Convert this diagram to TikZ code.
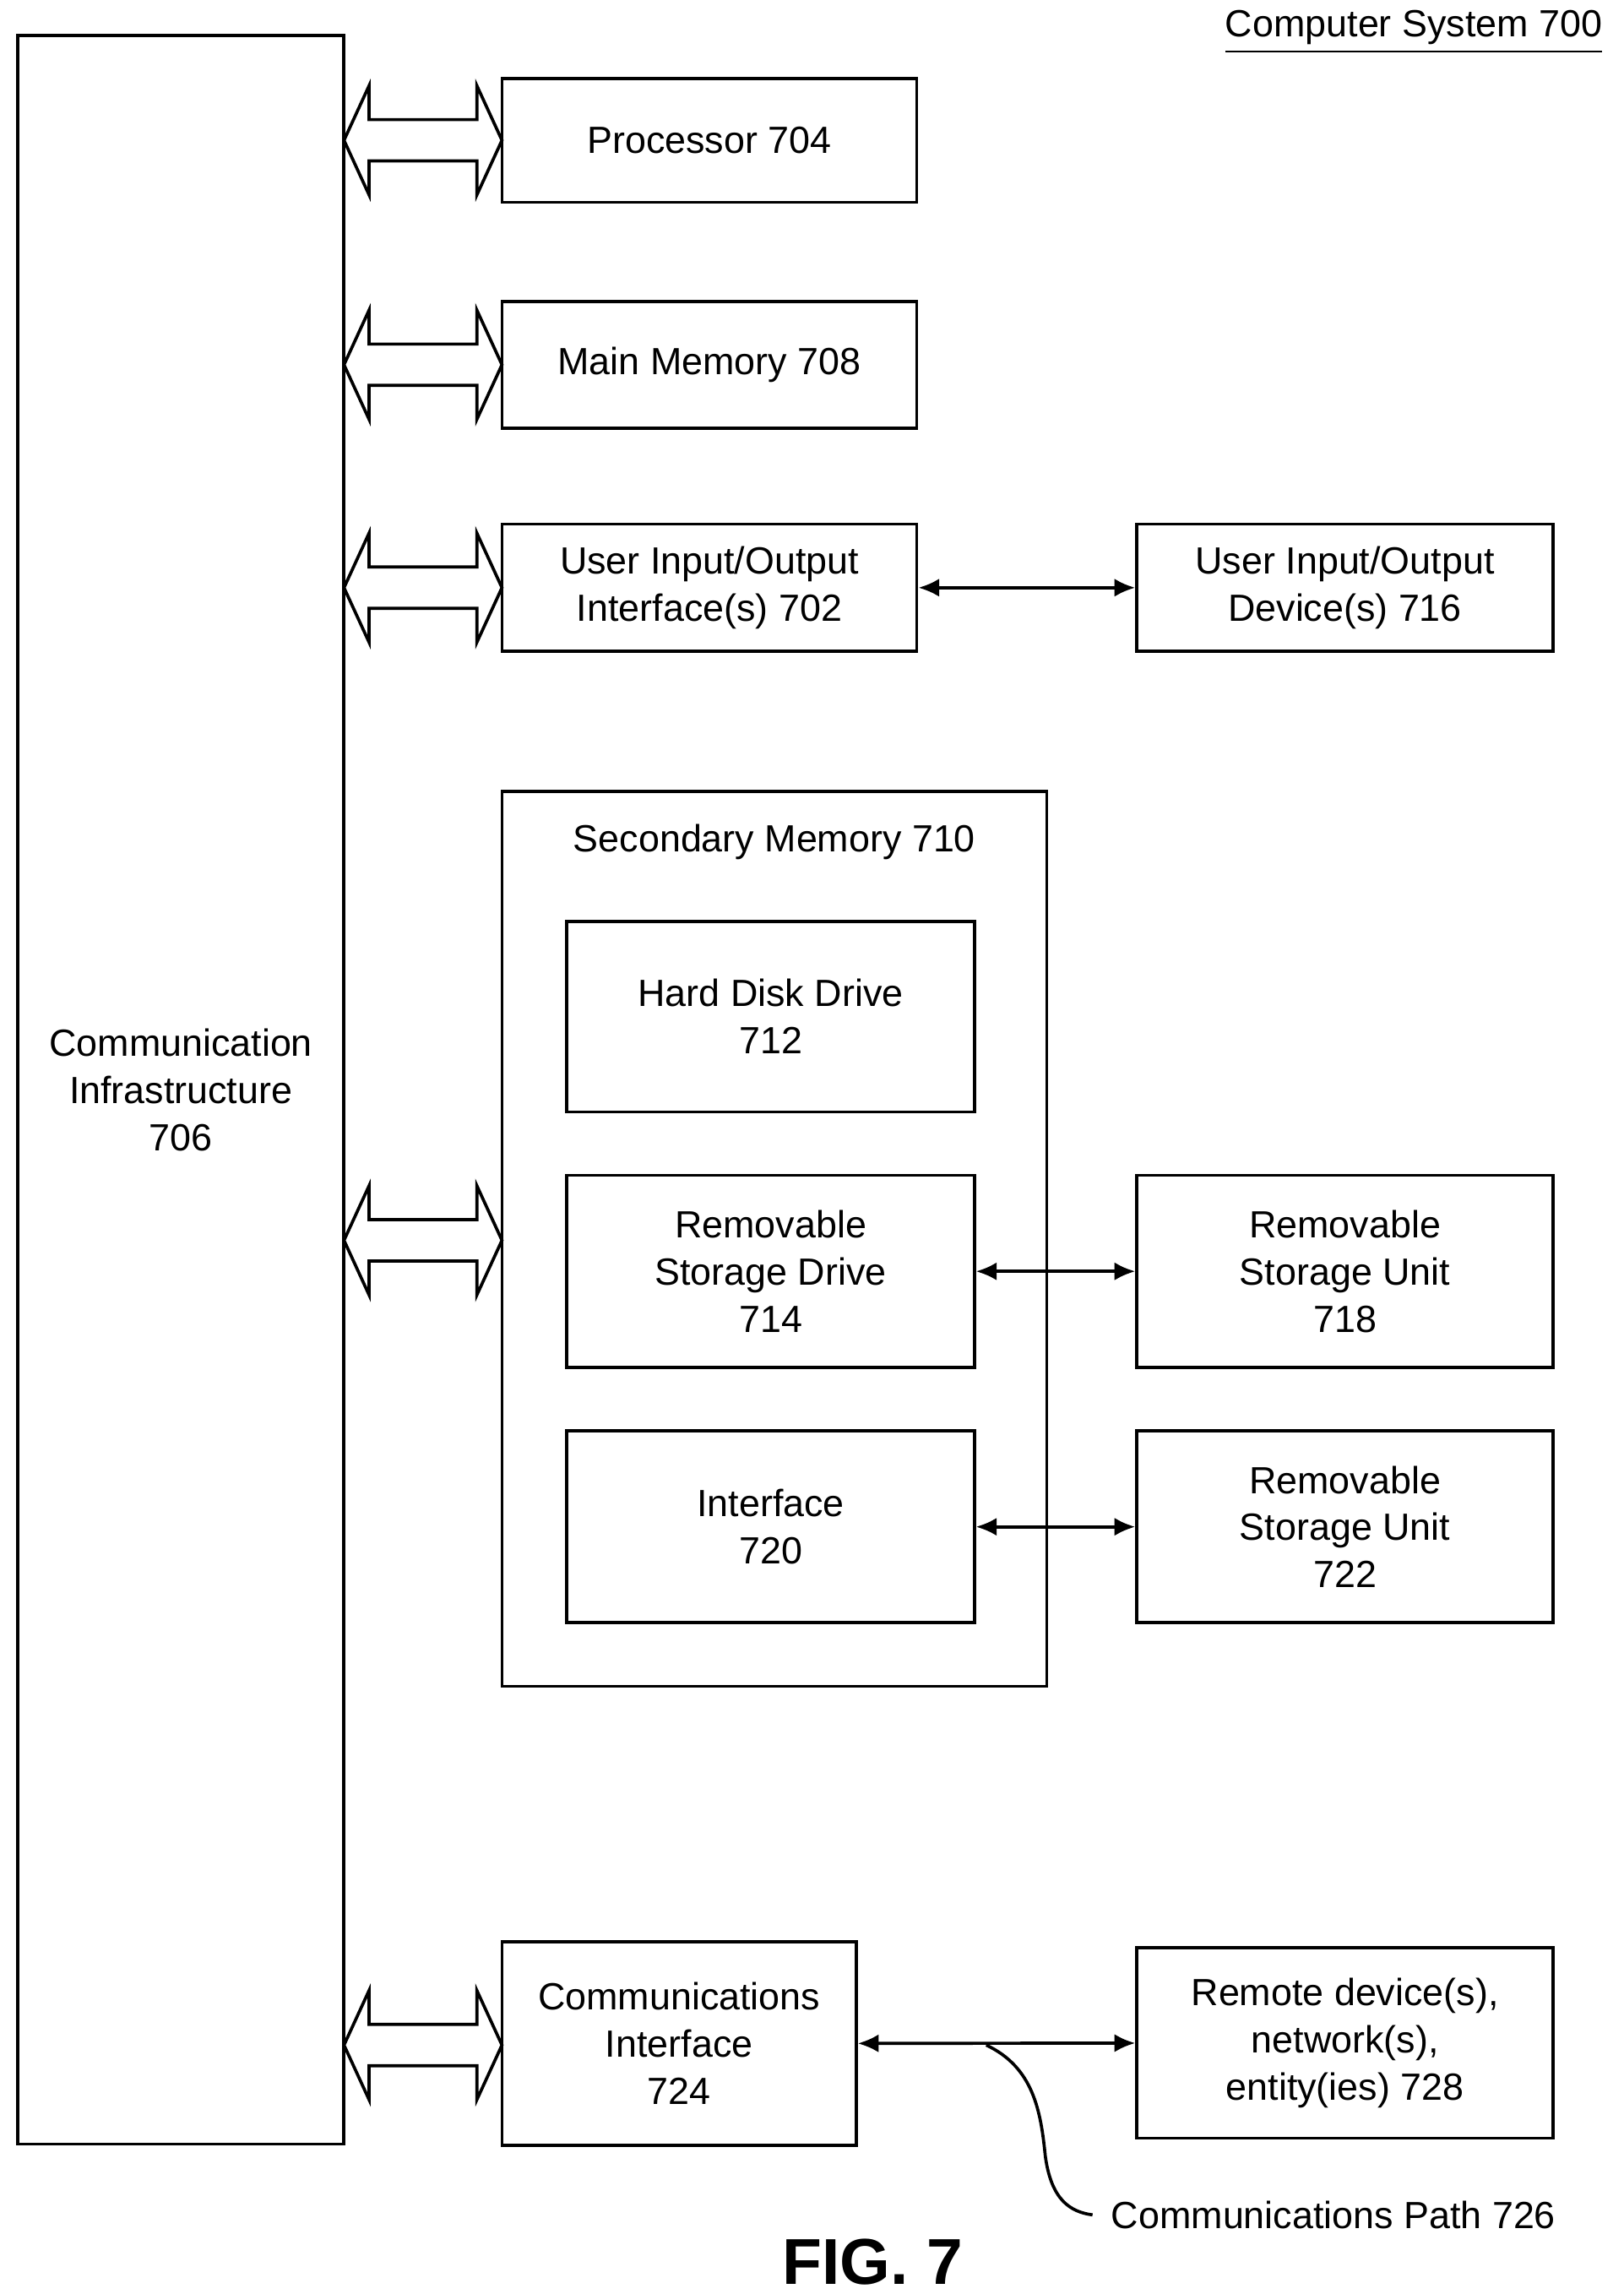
\documentclass[tikz,border=0pt]{standalone}
\usepackage{fontspec}
\setmainfont{Liberation Sans}
\usetikzlibrary{arrows.meta,positioning}

\begin{document}
\begin{tikzpicture}[
    x = 0.1mm, y = -0.1mm, % units follow the page, y downward
    line width = 0.6pt,
    font = \fontsize{7.3pt}{9.1pt}\selectfont,
    box/.style = {draw, align=center, inner sep=0pt},
    link/.style = {{Latex[length=4pt,width=3.5pt]}-{Latex[length=4pt,width=3.5pt]}},
    bus/.style = {line width=0.6pt, line join=miter}
    ]

    \useasboundingbox (0,0) rectangle (1100,1553.6);

    % frame boxes
    \node[box, minimum width=22.1mm, minimum height=142.8mm] (infra) at (122.5,738) {Communication\\Infrastructure\\706};
    \node[box, minimum width=36.9mm, minimum height=60.6mm] (secmem) at (524.5,839) {};
    \node (sectitle) at (524.5,570) {Secondary Memory 710};

    % left column
    \node[box, minimum width=28.1mm, minimum height=8.4mm] (proc) at (480.5,95) {Processor 704};
    \node[box, minimum width=28.1mm, minimum height=8.6mm] (mainmem) at (480.5,247) {Main Memory 708};
    \node[box, minimum width=28.1mm, minimum height=8.6mm] (uioif) at (480.5,398) {User Input/Output\\Interface(s) 702};
    \node[box, minimum width=27.6mm, minimum height=12.9mm] (hdd) at (522,688.5) {Hard Disk Drive\\712};
    \node[box, minimum width=27.6mm, minimum height=13.0mm] (rsd) at (522,861) {Removable\\Storage Drive\\714};
    \node[box, minimum width=27.6mm, minimum height=13.0mm] (iface) at (522,1034) {Interface\\720};
    \node[box, minimum width=24.0mm, minimum height=13.8mm] (commif) at (460,1384) {Communications\\Interface\\724};

    % right column
    \node[box, minimum width=28.2mm, minimum height=8.6mm] (uiodev) at (911,398) {User Input/Output\\Device(s) 716};
    \node[box, minimum width=28.2mm, minimum height=13.0mm] (rsu718) at (911,861) {Removable\\Storage Unit\\718};
    \node[box, minimum width=28.2mm, minimum height=13.0mm] (rsu722) at (911,1034) {Removable\\Storage Unit\\722};
    \node[box, minimum width=28.2mm, minimum height=12.9mm] (remote) at (911,1383.5) {Remote device(s),\\network(s),\\entity(ies) 728};

    % labels
    \node[anchor=east] (title) at (1098,22) {\underline{Computer System 700}};
    \node[anchor=west] (pathlbl) at (740,1500) {Communications Path 726};
    \node[font=\fontsize{12.5pt}{14pt}\selectfont\bfseries] (fig) at (591,1532) {FIG. 7};

    % bus arrows
    \foreach \y in {95,247,398,840,1385}
      \draw[bus] (233,\y) -- (250,\y-37) -- (250,\y-14) -- (323,\y-14) -- (323,\y-37)
        -- (340,\y) -- (323,\y+37) -- (323,\y+14) -- (250,\y+14) -- (250,\y+37) -- cycle;

    % links
    \draw[link] (uioif) -- (uiodev);
    \draw[link] (rsd) -- (rsu718);
    \draw[link] (iface) -- (rsu722);
    \draw[link] (commif) -- (remote);
    \coordinate (pathtap) at (668,1385);
    \draw (pathtap) .. controls (700,1400) and (705,1430) .. (708,1460)
      .. controls (712,1490) and (725,1498) .. (pathlbl.west);
\end{tikzpicture}
\end{document}
